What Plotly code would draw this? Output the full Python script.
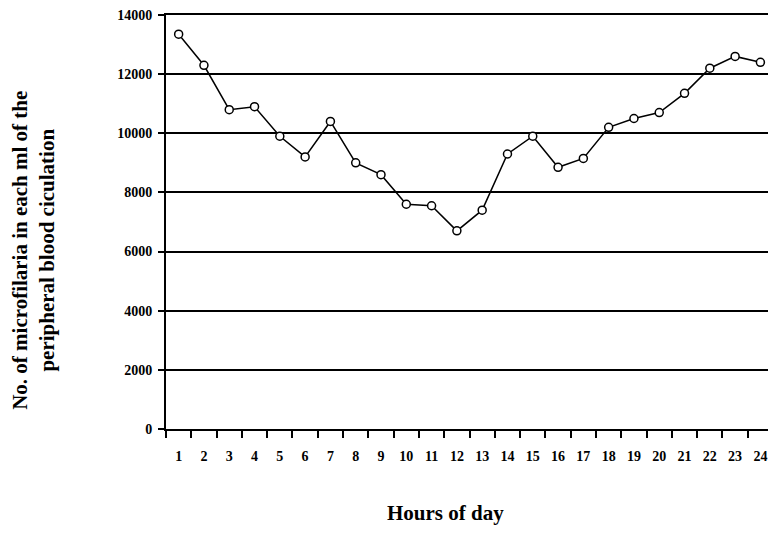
import plotly.graph_objects as go

hours = [str(h) for h in range(1, 25)]
counts = [13350, 12300, 10800, 10900, 9900, 9200, 10400, 9000, 8600, 7600,
          7550, 6700, 7400, 9300, 9900, 8850, 9150, 10200, 10500, 10700,
          11350, 12200, 12600, 12400]
y_ticks = [0, 2000, 4000, 6000, 8000, 10000, 12000, 14000]

FONT = "Liberation Serif"
# the page body keeps its 8px margin; size the figure so nothing overflows
OFF = 8
FIG_W = 776 - 2 * OFF
FIG_H = 533 - 2 * OFF
LEFT, TOP, BOTTOM = 166, 13, 429          # plot area in window pixels
PLOT_W = FIG_W + OFF - LEFT
PLOT_H = BOTTOM - TOP

fig = go.Figure()
fig.add_trace(go.Scatter(
    x=hours, y=counts, mode="lines+markers",
    line=dict(color="black", width=1.5),
    marker=dict(symbol="circle", size=8, color="white",
                line=dict(color="black", width=1.5)),
    showlegend=False, cliponaxis=False,
))

fig.update_layout(
    width=FIG_W, height=FIG_H,
    margin=dict(l=LEFT - OFF, r=0, t=TOP - OFF, b=FIG_H - (TOP - OFF) - PLOT_H),
    paper_bgcolor="white", plot_bgcolor="white",
    font=dict(family=FONT, color="black"),
    xaxis=dict(
        type="category", range=[-0.5, 23.3],
        tickson="boundaries", ticks="outside", ticklen=7, tickwidth=2,
        tickcolor="black", showgrid=False,
        showline=True, linecolor="black", linewidth=2, mirror=True,
        tickfont=dict(family=FONT, size=14, weight="bold"),
        ticklabelstandoff=13, ticklabeloverflow="allow",
    ),
    yaxis=dict(
        range=[0, 14000], tickvals=y_ticks, ticktext=[str(v) for v in y_ticks],
        ticks="outside", ticklen=6, tickwidth=2, tickcolor="black",
        showgrid=True, gridcolor="black", gridwidth=1.5,
        showline=True, linecolor="black", linewidth=2, zeroline=False,
        tickfont=dict(family=FONT, size=14, weight="bold"),
        ticklabelstandoff=3, ticklabeloverflow="allow",
    ),
    annotations=[
        dict(text="No. of microfilaria in each ml of the<br>peripheral blood ciculation",
             xref="paper", yref="paper", x=(34 - LEFT) / PLOT_W, y=(BOTTOM - 250) / PLOT_H,
             xanchor="center", yanchor="middle", textangle=-90, showarrow=False,
             font=dict(family=FONT, size=21, weight="bold")),
        dict(text="Hours of day",
             xref="paper", yref="paper", x=(445 - LEFT) / PLOT_W, y=(BOTTOM - 513) / PLOT_H,
             xanchor="center", yanchor="middle", showarrow=False,
             font=dict(family=FONT, size=21, weight="bold")),
    ],
)

fig.write_html("out.html")
